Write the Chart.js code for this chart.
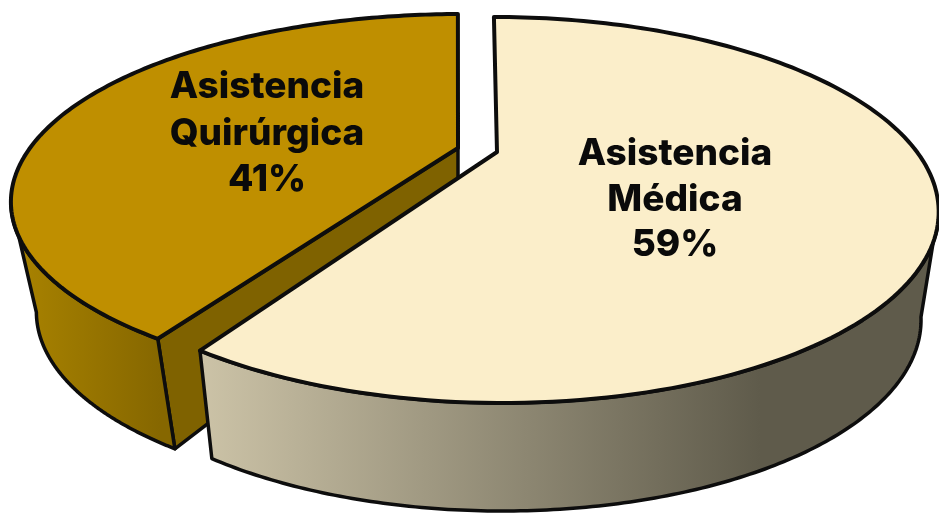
<!DOCTYPE html>
<html><head><meta charset="utf-8">
<style>html,body{margin:0;padding:0;background:#fff;width:939px;height:514px;overflow:hidden}canvas{display:block}</style>
<script src="https://cdn.jsdelivr.net/npm/chart.js@4"></script>
</head><body>
<canvas id="c" width="939" height="514"></canvas>
<script>
const categories = ["Asistencia Médica", "Asistencia Quirúrgica"];
const shares = [59, 41];
const topColors = ["#fbeeca", "#bf8f00"];

// projection of each wedge onto the page (perspective view of the unit disc)
const views = [
  {cx:497, cy:152, a:129.9, c:-0.3005, d:420, e:4, rot:0, sx:0.96, dy:108,
   sideFrom:null, label:{x:675, y:[154,200,245]},
   grad:[[195,"#cdc4a8"],[760,"#5f5b4b"]]},
  {cx:458, cy:148, a:130.1, c:-0.278, d:428, e:-5, rot:-0.012, sx:0.943, dy:110,
   label:{x:267, y:[87,134,180]},
   grad:[[20,"#a88200"],[160,"#866700"]]}
];
const innerWallColor = "#7f6200";
const innerWallBottom = {x:458, y:232};
const lineColor = "#0d0d0d";

function project(v, ang){
  const t = ang + v.rot, u = Math.cos(t), w = Math.sin(t), q = 1 + v.c*w;
  return {x: v.cx + (v.d*u + v.e*w)/q, y: (v.a*w + v.cy)/q + 0};
}
function lower(v, p){ return {x: v.cx + (p.x - v.cx)*v.sx, y: p.y + v.dy}; }
function rim(v, from, to, low){
  const pts = [], n = 160;
  for(let i=0;i<=n;i++){
    const p = project(v, from + (to-from)*i/n);
    pts.push(low ? lower(v,p) : p);
  }
  return pts;
}
function trace(ctx, pts, move){
  pts.forEach((p,i)=>{ if(i===0 && move) ctx.moveTo(p.x,p.y); else ctx.lineTo(p.x,p.y); });
}
function paint(ctx, fill, lw){
  ctx.closePath(); ctx.fillStyle = fill; ctx.fill();
  ctx.lineWidth = lw; ctx.strokeStyle = lineColor; ctx.lineJoin = "round"; ctx.stroke();
}
function sideGrad(ctx, v){
  const g = ctx.createLinearGradient(v.grad[0][0],0,v.grad[1][0],0);
  g.addColorStop(0,v.grad[0][1]); g.addColorStop(1,v.grad[1][1]);
  return g;
}

const pie3d = {
  id:"pie3d",
  beforeDatasetsDraw(chart){
    const ctx = chart.ctx, arcs = chart.getDatasetMeta(0).data;
    const colors = chart.data.datasets[0].backgroundColor;
    ctx.save();
    // left wedge
    const L = views[1], la = arcs[1];
    const cornerTop = project(L, la.startAngle), apex = {x:L.cx, y:L.cy};
    ctx.beginPath();
    trace(ctx,[apex,cornerTop,lower(L,cornerTop),innerWallBottom],true);
    paint(ctx, innerWallColor, 3.5);
    const lSideEnd = Math.PI - 0.284;
    ctx.beginPath();
    trace(ctx, rim(L, la.startAngle, lSideEnd, false), true);
    trace(ctx, rim(L, lSideEnd, la.startAngle, true), false);
    paint(ctx, sideGrad(ctx,L), 3.5);
    ctx.beginPath(); ctx.moveTo(apex.x,apex.y);
    trace(ctx, rim(L, la.startAngle, la.endAngle, false), false);
    paint(ctx, colors[1], 4);
    // right wedge
    const R = views[0], ra = arcs[0];
    const rSideStart = 0.3;
    ctx.beginPath();
    trace(ctx, rim(R, rSideStart, ra.endAngle, false), true);
    trace(ctx, rim(R, ra.endAngle, rSideStart, true), false);
    paint(ctx, sideGrad(ctx,R), 3.5);
    ctx.beginPath(); ctx.moveTo(R.cx,R.cy);
    trace(ctx, rim(R, ra.startAngle, ra.endAngle, false), false);
    paint(ctx, colors[0], 4);
    // labels
    ctx.fillStyle = "#0a0a0a";
    ctx.textAlign = "center"; ctx.textBaseline = "middle";
    ctx.font = "800 37px Inter, 'Open Sans', sans-serif";
    categories.forEach((name,i)=>{
      const lines = name.split(" ").concat(shares[i] + "%");
      lines.forEach((s,j)=> ctx.fillText(s, views[i].label.x, views[i].label.y[j]));
    });
    ctx.restore();
    return false;
  }
};

new Chart(document.getElementById("c"), {
  type:"pie",
  data:{labels:categories, datasets:[{data:shares, backgroundColor:topColors}]},
  options:{responsive:false, animation:false,
    plugins:{legend:{display:false}, tooltip:{enabled:false}}},
  plugins:[pie3d]
});
</script>
</body></html>
